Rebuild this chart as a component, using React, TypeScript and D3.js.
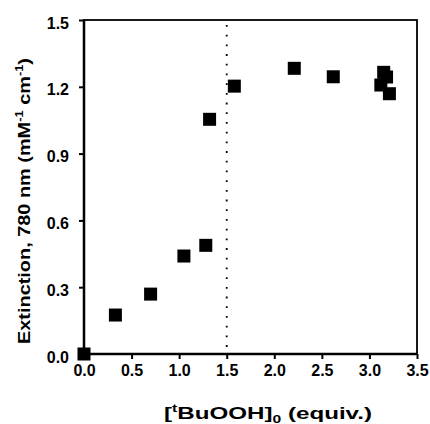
import { useRef, useEffect } from "react";
import * as d3 from "d3";

// [tBuOOH]0 equivalents vs extinction at 780 nm
const equiv = [0, 0.33, 0.7, 1.05, 1.28, 1.32, 1.58, 2.21, 2.62, 3.12, 3.15, 3.18, 3.21];
const extinction = [0, 0.175, 0.269, 0.44, 0.488, 1.054, 1.203, 1.283, 1.245, 1.208, 1.265, 1.244, 1.169];
const xTicks = [0, 0.5, 1, 1.5, 2, 2.5, 3, 3.5];
const yTicks = [0, 0.3, 0.6, 0.9, 1.2, 1.5];
const markerX = 1.5;

const App = () => {
  const svgRef = useRef<SVGSVGElement>(null);

  useEffect(() => {
    const svg = d3.select(svgRef.current);
    svg.selectAll("*").remove();

    const width = 430;
    const height = 424;
    const margin = { top: 20, right: 13, bottom: 70, left: 84 };
    const font = "'Liberation Sans', Arial, sans-serif";

    const x = d3.scaleLinear().domain([0, 3.5]).range([margin.left, width - margin.right]);
    const y = d3.scaleLinear().domain([0, 1.5]).range([height - margin.bottom, margin.top]);

    // frame
    svg
      .append("rect")
      .attr("x", x(0))
      .attr("y", y(1.5))
      .attr("width", x(3.5) - x(0))
      .attr("height", y(0) - y(1.5))
      .attr("fill", "none")
      .attr("stroke", "#000")
      .attr("stroke-width", 1.8);

    // dotted line
    svg
      .append("line")
      .attr("x1", x(markerX))
      .attr("x2", x(markerX))
      .attr("y1", y(1.5) + 5)
      .attr("y2", y(0))
      .attr("stroke", "#000")
      .attr("stroke-width", 1.8)
      .attr("stroke-dasharray", "1.8,7.9");

    const xAxis = svg
      .append("g")
      .attr("transform", `translate(0,${y(0)})`)
      .call(d3.axisBottom(x).tickValues(xTicks).tickSize(5).tickPadding(6).tickFormat(d3.format(".1f")));
    const yAxis = svg
      .append("g")
      .attr("transform", `translate(${x(0)},0)`)
      .call(d3.axisLeft(y).tickValues(yTicks).tickSize(5).tickPadding(10).tickFormat(d3.format(".1f")));

    [xAxis, yAxis].forEach((g) => {
      g.select(".domain").attr("stroke-width", 2.5);
      g.selectAll(".tick line").attr("stroke-width", 2);
      g.selectAll(".tick text")
        .attr("font-family", font)
        .attr("font-weight", "bold")
        .attr("font-size", 16)
        .attr("fill", "#000");
    });
    yAxis.selectAll(".tick text").attr("dy", "0.5em");
    xAxis.select(".domain").attr("d", `M${x(0)},0H${x(3.5)}`);
    yAxis.select(".domain").attr("d", `M0,${y(0)}V${y(1.5)}`);

    // squares
    const s = 13;
    svg
      .append("g")
      .selectAll("rect")
      .data(equiv.map((e, i) => [e, extinction[i]]))
      .join("rect")
      .attr("x", (d) => x(d[0]) - s / 2)
      .attr("y", (d) => y(d[1]) - s / 2)
      .attr("width", s)
      .attr("height", s)
      .attr("fill", "#000");

    // x label
    const xl = svg
      .append("text")
      .attr("x", 268)
      .attr("y", 419)
      .attr("text-anchor", "middle")
      .attr("font-family", font)
      .attr("font-weight", "bold")
      .attr("font-size", 17)
      .attr("textLength", 208)
      .attr("lengthAdjust", "spacingAndGlyphs");
    xl.append("tspan").text("[");
    xl.append("tspan").attr("font-size", 11).attr("dy", -7).text("t");
    xl.append("tspan").attr("dy", 7).text("BuOOH]");
    xl.append("tspan").attr("font-size", 11).attr("dy", 4).text("0");
    xl.append("tspan").attr("dy", -4).text(" (equiv.)");

    // y label
    const yl = svg
      .append("text")
      .attr("transform", `translate(30,${201}) rotate(-90)`)
      .attr("text-anchor", "middle")
      .attr("font-family", font)
      .attr("font-weight", "bold")
      .attr("font-size", 17)
      .attr("textLength", 286)
      .attr("lengthAdjust", "spacingAndGlyphs");
    yl.append("tspan").text("Extinction, 780 nm (mM");
    yl.append("tspan").attr("font-size", 11).attr("dy", -7).text("-1");
    yl.append("tspan").attr("dy", 7).text(" cm");
    yl.append("tspan").attr("font-size", 11).attr("dy", -7).text("-1");
    yl.append("tspan").attr("dy", 7).text(")");
  }, []);

  return (
    <svg
      ref={svgRef}
      width="430"
      height="424"
      style={{ position: "absolute", left: 0, top: 0, background: "#fff" }}
    />
  );
};

export default App;
